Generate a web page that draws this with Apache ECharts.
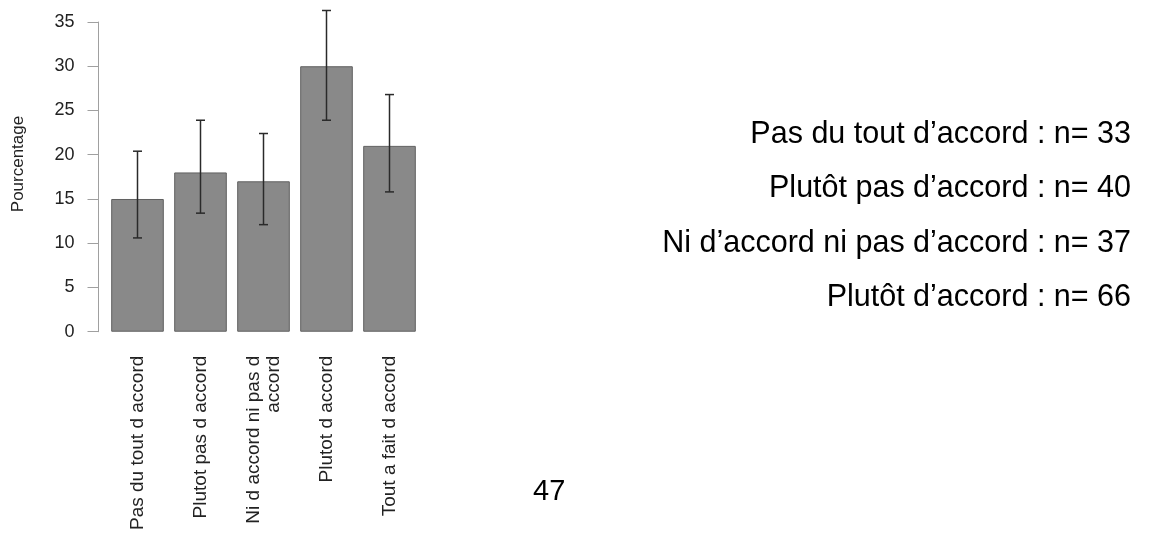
<!DOCTYPE html>
<html>
<head>
<meta charset="utf-8">
<style>
  html, body { margin: 0; padding: 0; background: #ffffff; }
  #chart { width: 1157px; height: 533px; }
</style>
<script src="https://cdn.jsdelivr.net/npm/echarts@6/dist/echarts.min.js"></script>
</head>
<body>
<div id="chart"></div>
<script>
// Response categories (x axis labels)
const categories = [
  'Pas du tout d accord',
  'Plutot pas d accord',
  'Ni d accord ni pas d\naccord',
  'Plutot d accord',
  'Tout a fait d accord'
];
// Percentage per response, with lower / upper confidence bounds
const percentages = [15, 18, 17, 30, 21];
const lowerBounds = [10.6, 13.4, 12.1, 23.9, 15.8];
const upperBounds = [20.4, 23.9, 22.4, 36.3, 26.8];

// Sample sizes listed on the right
const countLabels = [
  'Pas du tout d’accord',
  'Plutôt pas d’accord',
  'Ni d’accord ni pas d’accord',
  'Plutôt d’accord'
];
const countValues = [33, 40, 37, 66];
const pageNumber = '47';

const FONT = '"Liberation Sans", Arial, Helvetica, sans-serif';

const chart = echarts.init(document.getElementById('chart'), null, { renderer: 'canvas' });

const sideTexts = countLabels.map((lab, i) => ({
  type: 'text',
  right: 26,
  top: 119 + i * 54.5,
  style: {
    text: lab + ' : n= ' + countValues[i],
    font: '30.5px ' + FONT,
    fill: '#000000',
    textAlign: 'right'
  }
}));

chart.setOption({
  animation: false,
  backgroundColor: '#ffffff',
  grid: { left: 106, right: 736, top: 22, bottom: 200, containLabel: false },
  xAxis: {
    type: 'category',
    data: categories,
    axisLine: { show: false },
    axisTick: { show: false },
    axisLabel: {
      rotate: 90,
      margin: 24,
      interval: 0,
      fontFamily: FONT,
      fontSize: 19,
      color: '#222222',
      lineHeight: 20
    }
  },
  yAxis: {
    type: 'value',
    min: 0,
    max: 35,
    interval: 5,
    offset: 7.5,
    splitLine: { show: false },
    axisLine: { show: true, lineStyle: { color: '#a0a0a0', width: 1 } },
    axisTick: { show: true, length: 11, lineStyle: { color: '#a0a0a0', width: 1 } },
    axisLabel: {
      margin: 24,
      fontFamily: FONT,
      fontSize: 18,
      color: '#222222'
    }
  },
  series: [
    {
      type: 'bar',
      data: percentages,
      barCategoryGap: '16.5%',
      itemStyle: {
        color: '#898989',
        borderColor: '#606060',
        borderWidth: 1
      },
      silent: true
    },
    {
      type: 'custom',
      clip: false,
      silent: true,
      data: categories.map((c, i) => [i, lowerBounds[i], upperBounds[i]]),
      renderItem: function (params, api) {
        const x = api.value(0);
        const lo = api.coord([x, api.value(1)]);
        const hi = api.coord([x, api.value(2)]);
        const half = 4.5;
        const style = { stroke: '#2a2a2a', lineWidth: 1.5, fill: null };
        return {
          type: 'group',
          children: [
            { type: 'line', shape: { x1: lo[0], y1: lo[1], x2: hi[0], y2: hi[1] }, style: style },
            { type: 'line', shape: { x1: lo[0] - half, y1: lo[1], x2: lo[0] + half, y2: lo[1] }, style: style },
            { type: 'line', shape: { x1: hi[0] - half, y1: hi[1], x2: hi[0] + half, y2: hi[1] }, style: style }
          ]
        };
      },
      encode: { x: 0, y: [1, 2] },
      z: 5
    }
  ],
  graphic: [
    {
      type: 'text',
      x: 18,
      y: 164,
      rotation: Math.PI / 2,
      style: {
        text: 'Pourcentage',
        font: '17px ' + FONT,
        fill: '#222222',
        textAlign: 'center',
        textVerticalAlign: 'middle'
      }
    },
    ...sideTexts,
    {
      type: 'text',
      left: 533,
      top: 477,
      style: {
        text: pageNumber,
        font: '29px ' + FONT,
        fill: '#000000'
      }
    }
  ]
});
</script>
</body>
</html>
